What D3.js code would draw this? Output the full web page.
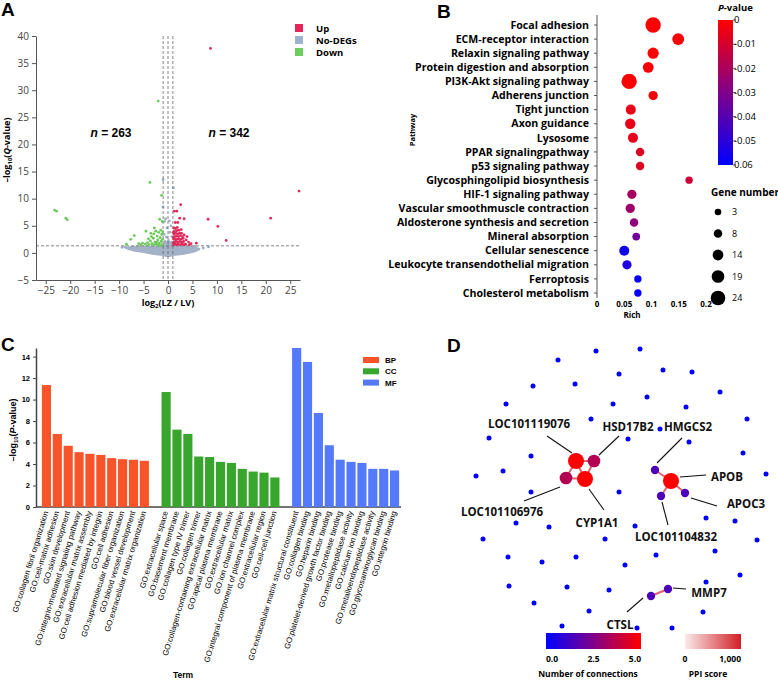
<!DOCTYPE html>
<html>
<head>
<meta charset="utf-8">
<script src="https://cdn.jsdelivr.net/npm/d3@7"></script>
<style>
body { margin: 0; background: #fff; }
svg { display: block; font-family: "Open Sans", sans-serif; }
</style>
</head>
<body>
<svg id="fig" width="778" height="681"></svg>
<script>
// ---------------- panel A : volcano ----------------
const upPts = [
  [8.7,37.7],[26.8,11.4],[8.2,6.2],[21.0,6.4],[10.2,4.9],[11.9,2.3],
  [1.3,7.7],[1.8,7.7],[2.6,8.9],[2.4,6.4],[3.3,6.3],[1.5,5.6],[2.0,5.6],
  [3.7,2.4],[4.7,1.7],[2.7,4.3],[4.2,2.0],[5.8,1.8],[3.9,3.0],[4.4,1.5],
  [1.2,1.5],[1.5,1.6],[1.8,1.5],[2.1,1.6],[2.5,1.5],[2.9,1.6],[3.3,1.5],[3.6,1.6],
  [1.3,2.0],[1.6,2.1],[2.0,2.0],[2.4,2.1],[2.8,2.0],[3.2,2.1],[1.1,1.8],
  [1.2,2.5],[1.5,2.6],[1.9,2.5],[2.3,2.6],[2.7,2.5],[3.1,2.7],[1.1,2.8],
  [1.3,3.0],[1.7,3.1],[2.1,3.0],[2.5,3.2],[2.9,3.0],[3.3,3.3],
  [1.2,3.5],[1.6,3.6],[2.0,3.5],[2.4,3.7],[1.1,3.8],[2.8,3.6],
  [1.3,4.0],[1.8,4.1],[2.2,4.2],[1.5,4.5],[1.2,4.6],[1.9,4.7]
];
const downPts = [
  [-2.0,28.0],[-23.2,7.9],[-22.8,7.7],[-20.9,6.4],[-20.6,6.1],[-3.7,13.0],[-1.3,10.6],
  [-6.9,3.2],[-7.6,2.5],[-4.5,4.0],[-2.8,4.6],[-1.7,6.2],[-8.5,1.6],[-6.0,1.7],
  [-1.2,1.5],[-1.4,2.1],[-1.6,2.8],[-1.3,3.4],[-1.8,1.8],[-2.1,2.4],[-2.4,1.6],
  [-2.2,3.1],[-2.7,2.0],[-3.0,2.7],[-3.3,1.7],[-3.6,2.2],[-3.9,1.5],[-4.2,1.9],
  [-4.6,1.6],[-2.9,3.5],[-1.9,3.8],[-1.5,4.2],[-2.5,4.0],[-3.4,3.0],[-4.0,2.6],
  [-5.2,1.8],[-5.6,1.5],[-1.1,2.5],[-1.7,1.4],[-2.0,1.4],[-1.2,5.8],[-3.5,3.6],
  [-1.1,3.9],[-2.3,2.0],[-2.9,1.5]
];
const nsPts = [
  [-1.0,13.5],[1.1,12.0],[-1.0,8.5],[-0.5,6.3],[0.3,5.9],[-0.7,5.8],[0.6,5.0],
  [-0.2,4.6],[0.4,3.8],[-0.8,3.4],[0.8,3.0],[-0.3,2.9],[0.1,2.3],[-0.6,2.1],
  [0.7,2.0],[-9.4,1.0],[8.3,1.1],[7.2,0.9],[5.5,1.2],[-8.8,1.1]
];
// dense grey mass: x, lower edge, upper edge
const nsCloudX = [-9, -8, -6, -4, -2, -1, 0, 1, 2, 4, 5.5, 6.6];
const nsCloudLo = [0.9, 0.5, 0.1, -0.2, -0.5, -0.6, -0.75, -0.6, -0.5, -0.2, 0.1, 0.6];
const nsCloudHi = [1.1, 1.2, 1.3, 1.3, 1.3, 1.7, 2.3, 1.7, 1.3, 1.3, 1.2, 0.9];
const volcanoXTicks = [-25, -20, -15, -10, -5, 0, 5, 10, 15, 20, 25];
const volcanoYTicks = [-5, 0, 5, 10, 15, 20, 25, 30, 35, 40];

// ---------------- panel B : KEGG bubbles ----------------
const pathways = ["Focal adhesion","ECM-receptor interaction","Relaxin signaling pathway",
  "Protein digestion and absorption","PI3K-Akt signaling pathway","Adherens junction",
  "Tight junction","Axon guidance","Lysosome","PPAR signalingpathway","p53 signaling pathway",
  "Glycosphingolipid biosynthesis","HIF-1 signaling pathway","Vascular smoothmuscle contraction",
  "Aldosterone synthesis and secretion","Mineral absorption","Cellular senescence",
  "Leukocyte transendothelial migration","Ferroptosis","Cholesterol metabolism"];
const richVals = [0.103,0.149,0.103,0.094,0.059,0.103,0.062,0.061,0.066,0.079,0.079,
  0.169,0.064,0.061,0.068,0.072,0.050,0.055,0.075,0.075];
const pVals = [-0.0005,-0.001,-0.001,-0.0015,-0.0005,-0.002,-0.005,-0.005,-0.006,-0.008,-0.008,
  -0.012,-0.021,-0.023,-0.026,-0.034,-0.056,-0.053,-0.058,-0.058];
const geneNums = [26,17,15,14,26,10,12,13,12,8,8,5,10,10,8,6,12,10,5,5];
const geneLegend = [3, 8, 14, 19, 24];
const pTicks = [0, -0.01, -0.02, -0.03, -0.04, -0.05, -0.06];
const richTicks = [0, 0.05, 0.1, 0.15, 0.2];

// ---------------- panel C : GO bars ----------------
const bpTerms = ["GO:collagen fibril organization","GO:cell-matrix adhesion","GO:skin development",
  "GO:integrin-mediated signaling pathway","GO:extracellular matrix assembly",
  "GO:cell adhesion mediated by integrin","GO:cell adhesion","GO:supramolecular fiber organization",
  "GO:blood vessel development","GO:extracellular matrix organization"];
const bpVals = [11.35,6.8,5.7,5.1,4.95,4.85,4.55,4.45,4.4,4.3];
const ccTerms = ["GO:extracellular space","GO:basement membrane","GO:collagen type IV trimer",
  "GO:collagen trimer","GO:collagen-containing extracellular matrix","GO:apical plasma membrane",
  "GO:extracellular matrix","GO:ion channel complex","GO:integral component of plasma membrane",
  "GO:extracellular region","GO:cell-cell junction"];
const ccVals = [10.7,7.2,6.8,4.7,4.65,4.2,4.1,3.55,3.3,3.2,2.75];
const mfTerms = ["GO:extracellular matrix structural constituent","GO:collagen binding",
  "GO:heparin binding","GO:platelet-derived growth factor binding","GO:protease binding",
  "GO:metallopeptidase activity","GO:calcium ion binding","GO:metalloendopeptidase activity",
  "GO:glycosaminoglycan binding","GO:integrin binding"];
const mfVals = [14.8,13.5,8.75,5.75,4.4,4.2,4.1,3.55,3.55,3.4];
const goYTicks = [0, 2, 4, 6, 8, 10, 12, 14];

// ---------------- panel D : PPI network (layout units) ----------------
const loneNodes = [
  [108,20],[146,11],[190,9],[83,46],[125,44],[169,34],[213,30],[242,32],[270,52],
  [56,64],[163,64],[197,57],[236,67],[141,79],[297,79],[210,89],[39,98],[178,99],
  [239,102],[81,116],[293,113],[26,136],[53,131],[316,134],[81,152],[169,152],
  [256,178],[285,181],[99,187],[185,186],[66,183],[33,199],[155,199],[307,200],
  [265,211],[206,215],[58,217],[92,222],[126,217],[175,225],[290,235],[256,242],
  [59,246],[117,247],[159,250],[84,263],[139,271],[253,272],[112,286],[222,288],[187,288]
];
const genes = ["LOC101119076","HSD17B2","LOC101106976","CYP1A1","HMGCS2","APOB",
  "LOC101104832","APOC3","MMP7","CTSL"];
const genePos = [[126,121],[144,121],[116,138],[135,139],[205,130],[221,141],
  [211,156],[235,153],[218,249],[201,256]];
const geneConn = [5, 3.5, 3.5, 5, 1.5, 5, 1.5, 1.5, 1.5, 1.5];
const labelPos = [[79,84],[178,87],[52,172],[147,183],[238,87],[277,137],
  [226,197],[296,164],[259,253],[170,285]];
const leaderFrom = [[97,96],[169,96],[74,161],[139,149],[232,98],[230,137],
  [212,162],[241,158],[223,248],[193,258]];
const leaderTo = [[122,113],[149,115],[110,147],[154,170],[207,123],[256,135],
  [218,185],[267,166],[236,249],[177,272]];
const ppiEdges = [[0,1],[0,2],[1,3],[2,3],[0,3],[5,4],[5,6],[5,7],[8,9]];

const svg = d3.select("#fig");
const heading = (x, y, t) => svg.append("text").attr("x", x).attr("y", y)
  .attr("font-family", "Liberation Sans, Arial, sans-serif").attr("font-weight", "bold")
  .attr("font-size", 19).text(t);

// ================= A =================
heading(1, 16, "A");
const xA = d3.scaleLinear([-27, 27], [36, 300]);
const yA = d3.scaleLinear([-5, 40], [280, 36]);
const gA = svg.append("g");

const axA = gA.append("g").attr("transform", "translate(0,280)")
  .call(d3.axisBottom(xA).tickValues(volcanoXTicks).tickSize(4).tickSizeOuter(0));
const ayA = gA.append("g").attr("transform", "translate(36,0)")
  .call(d3.axisLeft(yA).tickValues(volcanoYTicks).tickSize(4).tickSizeOuter(0));
[axA, ayA].forEach(a => {
  a.selectAll("path,line").attr("stroke", "#555");
  a.selectAll("text").attr("font-size", 10).attr("fill", "#444").attr("font-family", "Open Sans");
});

const cloud = d3.range(nsCloudX.length).map(i => [nsCloudX[i], nsCloudLo[i], nsCloudHi[i]]);
gA.append("path").datum(cloud)
  .attr("d", d3.area().curve(d3.curveCatmullRom).x(d => xA(d[0])).y0(d => yA(d[1])).y1(d => yA(d[2])))
  .attr("fill", "#a3b2c6");
gA.selectAll("circle.ns").data(nsPts).join("circle").attr("class", "ns")
  .attr("cx", d => xA(d[0])).attr("cy", d => yA(d[1])).attr("r", 1.4).attr("fill", "#9fb0c6");

[-1, 0, 1].forEach(v => {
  gA.append("line").attr("x1", xA(v)).attr("x2", xA(v)).attr("y1", yA(40)).attr("y2", yA(-5))
    .attr("stroke", "#666").attr("stroke-dasharray", "3,2").attr("stroke-width", 0.8);
});
gA.append("line").attr("x1", xA(-27)).attr("x2", xA(27)).attr("y1", yA(1.3)).attr("y2", yA(1.3))
  .attr("stroke", "#666").attr("stroke-dasharray", "3,2").attr("stroke-width", 0.8);

gA.selectAll("circle.down").data(downPts).join("circle").attr("class", "down")
  .attr("cx", d => xA(d[0])).attr("cy", d => yA(d[1])).attr("r", 1.4).attr("fill", "#6cc85a");
gA.selectAll("circle.up").data(upPts).join("circle").attr("class", "up")
  .attr("cx", d => xA(d[0])).attr("cy", d => yA(d[1])).attr("r", 1.4).attr("fill", "#de2a5a");

const nLab = (x, t) => {
  const tx = gA.append("text").attr("x", x).attr("y", 137).attr("text-anchor", "middle")
    .attr("font-family", "Liberation Sans, Arial").attr("font-weight", "bold").attr("font-size", 12);
  tx.append("tspan").attr("font-style", "italic").text("n");
  tx.append("tspan").text(" = " + t);
};
nLab(111, "263");
nLab(229, "342");

const legA = [["Up", "#e8245a"], ["No-DEGs", "#9fb3cf"], ["Down", "#6ccc5c"]];
legA.forEach(([t, c], i) => {
  gA.append("rect").attr("x", 295).attr("y", 24 + i * 12).attr("width", 8).attr("height", 8).attr("fill", c);
  gA.append("text").attr("x", 316).attr("y", 31.5 + i * 12).attr("font-size", 9.5).attr("font-weight", "bold").text(t);
});

const xlA = gA.append("text").attr("x", 168).attr("y", 306).attr("text-anchor", "middle")
  .attr("font-size", 9).attr("font-weight", "bold");
xlA.append("tspan").text("log");
xlA.append("tspan").attr("font-size", 6).attr("dy", 2).text("2");
xlA.append("tspan").attr("dy", -2).text("(LZ / LV)");
const ylA = gA.append("text").attr("transform", "translate(10,150) rotate(-90)").attr("text-anchor", "middle")
  .attr("font-size", 9).attr("font-weight", "bold");
ylA.append("tspan").text("\u2013log");
ylA.append("tspan").attr("font-size", 6).attr("dy", 2).text("10");
ylA.append("tspan").attr("dy", -2).text("(");
ylA.append("tspan").attr("font-style", "italic").text("Q");
ylA.append("tspan").text("-value)");

// ================= B =================
heading(437, 18, "B");
const gB = svg.append("g");
const yB = d3.scalePoint(pathways, [25, 293]);
const xB = d3.scaleLinear([0, 0.2], [597, 706]);
const rB = d3.scaleLinear([3, 24], [3.3, 7.3]);
const pColor = d3.scaleLinear([-0.06, -0.03, 0], ["#0000ff", "#80008a", "#ff0000"]);

gB.append("line").attr("x1", 597).attr("x2", 597).attr("y1", 15).attr("y2", 298).attr("stroke", "#555");
gB.selectAll("line.tk").data(pathways).join("line").attr("class", "tk")
  .attr("x1", 594).attr("x2", 597).attr("y1", d => yB(d)).attr("y2", d => yB(d)).attr("stroke", "#555");
gB.selectAll("text.pw").data(pathways).join("text").attr("class", "pw")
  .attr("x", 589).attr("y", d => yB(d)).attr("dy", "0.35em").attr("text-anchor", "end")
  .attr("font-size", 10.6).attr("font-weight", "bold").attr("font-family", "Open Sans, sans-serif").text(d => d);
gB.selectAll("text.rt").data(richTicks).join("text").attr("class", "rt")
  .attr("x", d => xB(d)).attr("y", 307).attr("text-anchor", "middle").attr("font-size", 8)
  .attr("font-weight", "bold").text(d => d);
gB.append("text").attr("x", 632).attr("y", 318).attr("text-anchor", "middle").attr("font-size", 8)
  .attr("font-weight", "bold").text("Rich");
gB.append("text").attr("transform", "translate(415,130) rotate(-90)").attr("text-anchor", "middle")
  .attr("font-size", 7.5).attr("font-weight", "bold").text("Pathway");

gB.selectAll("circle.bub").data(pathways).join("circle").attr("class", "bub")
  .attr("cx", (d, i) => xB(richVals[i])).attr("cy", d => yB(d))
  .attr("r", (d, i) => rB(geneNums[i])).attr("fill", (d, i) => pColor(pVals[i]));

// colour bar
const defs = svg.append("defs");
const gradP = defs.append("linearGradient").attr("id", "gradP").attr("x1", 0).attr("x2", 0).attr("y1", 0).attr("y2", 1);
d3.range(0, 1.01, 0.1).forEach(t => gradP.append("stop").attr("offset", t).attr("stop-color", pColor(-0.06 * t)));
const yP = d3.scaleLinear([0, -0.06], [20, 165]);
gB.append("rect").attr("x", 718).attr("y", 20).attr("width", 15).attr("height", 145).attr("fill", "url(#gradP)");
gB.selectAll("line.pt").data(pTicks).join("line").attr("class", "pt")
  .attr("x1", 733).attr("x2", 736).attr("y1", d => yP(d)).attr("y2", d => yP(d)).attr("stroke", "#555");
gB.selectAll("text.pt").data(pTicks).join("text").attr("class", "pt")
  .attr("x", 734).attr("y", d => yP(d)).attr("dy", "0.35em").attr("font-size", 9.5)
  .text(d => d === 0 ? "0" : d === -0.06 ? "0.06" : d.toFixed(2));
const pTitle = gB.append("text").attr("x", 718).attr("y", 11).attr("font-size", 9.5).attr("font-weight", "bold");
pTitle.append("tspan").attr("font-style", "italic").text("P");
pTitle.append("tspan").text("-value");

gB.append("text").attr("x", 711).attr("y", 196).attr("font-size", 10).attr("font-weight", "bold").text("Gene number");
const legY = d3.scalePoint(geneLegend, [212, 298]);
gB.selectAll("circle.gl").data(geneLegend).join("circle").attr("class", "gl")
  .attr("cx", 718).attr("cy", d => legY(d)).attr("r", d => rB(d)).attr("fill", "#000");
gB.selectAll("text.gl").data(geneLegend).join("text").attr("class", "gl")
  .attr("x", 732).attr("y", d => legY(d)).attr("dy", "0.35em").attr("font-size", 9).text(d => d);

// ================= C =================
heading(1, 351, "C");
const gC = svg.append("g");
const goGroups = [
  { terms: bpTerms, vals: bpVals, color: "#f7542a", name: "BP" },
  { terms: ccTerms, vals: ccVals, color: "#38a52c", name: "CC" },
  { terms: mfTerms, vals: mfVals, color: "#5479fb", name: "MF" }
];
const slots = [];
goGroups.forEach((g, gi) => {
  if (gi > 0) slots.push("gap" + gi);
  g.terms.forEach(t => slots.push(t));
});
const xC = d3.scaleBand(slots, [41, 400]).paddingInner(0.16).paddingOuter(0.08);
const yC = d3.scaleLinear([0, 14.8], [507, 348]);

const ayC = gC.append("g").attr("transform", "translate(36,0)")
  .call(d3.axisLeft(yC).tickValues(goYTicks).tickSize(3).tickSizeOuter(0));
ayC.select("path").attr("stroke", "#444").attr("stroke-width", 1.5);
ayC.selectAll("line").attr("stroke", "#444");
ayC.selectAll("text").attr("font-size", 7.5).attr("font-weight", "bold").attr("font-family", "Liberation Sans, Arial");
gC.append("line").attr("x1", 36).attr("x2", 401).attr("y1", 507).attr("y2", 507).attr("stroke", "#444").attr("stroke-width", 1.5);

goGroups.forEach(g => {
  gC.selectAll(null).data(g.terms).join("rect")
    .attr("x", d => xC(d)).attr("width", xC.bandwidth())
    .attr("y", (d, i) => yC(g.vals[i])).attr("height", (d, i) => 507 - yC(g.vals[i]))
    .attr("fill", g.color);
  gC.selectAll(null).data(g.terms).join("text")
    .attr("transform", d => `translate(${xC(d) + xC.bandwidth() / 2 + 2},${512}) rotate(-73)`)
    .attr("text-anchor", "end").attr("font-size", 7.9).attr("font-family", "Liberation Sans, Arial")
    .text(d => d);
});

goGroups.forEach((g, i) => {
  gC.append("rect").attr("x", 363).attr("y", 357 + i * 11.3).attr("width", 16).attr("height", 6).attr("fill", g.color);
  gC.append("text").attr("x", 385).attr("y", 363 + i * 11.3).attr("font-size", 8).attr("font-weight", "bold")
    .attr("font-family", "Liberation Sans, Arial").text(g.name);
});
gC.append("text").attr("x", 183).attr("y", 678).attr("text-anchor", "middle").attr("font-size", 8.5)
  .attr("font-weight", "bold").attr("font-family", "Liberation Sans, Arial").text("Term");
const ylC = gC.append("text").attr("transform", "translate(16,430) rotate(-90)").attr("text-anchor", "middle")
  .attr("font-size", 9).attr("font-weight", "bold").attr("font-family", "Liberation Sans, Arial");
ylC.append("tspan").text("\u2013log");
ylC.append("tspan").attr("font-size", 6).attr("dy", 2).text("10");
ylC.append("tspan").attr("dy", -2).text("(");
ylC.append("tspan").attr("font-style", "italic").text("P");
ylC.append("tspan").text("-value)");

// ================= D =================
heading(447, 352, "D");
const gD = svg.append("g");
const xD = d3.scaleLinear([0, 328], [450, 778]);
const yD = d3.scaleLinear([0, 341], [340, 681]);
const connColor = d3.scaleLinear([0, 2.5, 5], ["#0000ff", "#80008a", "#ff0000"]);
const rD = d3.scaleLinear([0, 5], [2.5, 8]);

gD.selectAll("circle.lone").data(loneNodes).join("circle").attr("class", "lone")
  .attr("cx", d => xD(d[0])).attr("cy", d => yD(d[1])).attr("r", rD(0)).attr("fill", connColor(0));
gD.selectAll("line.edge").data(ppiEdges).join("line").attr("class", "edge")
  .attr("x1", d => xD(genePos[d[0]][0])).attr("y1", d => yD(genePos[d[0]][1]))
  .attr("x2", d => xD(genePos[d[1]][0])).attr("y2", d => yD(genePos[d[1]][1]))
  .attr("stroke", "#e2606e").attr("stroke-width", 2);
gD.selectAll("line.lead").data(genes).join("line").attr("class", "lead")
  .attr("x1", (d, i) => xD(leaderFrom[i][0])).attr("y1", (d, i) => yD(leaderFrom[i][1]))
  .attr("x2", (d, i) => xD(leaderTo[i][0])).attr("y2", (d, i) => yD(leaderTo[i][1]))
  .attr("stroke", "#111").attr("stroke-width", 1.1);
gD.selectAll("circle.gene").data(genes).join("circle").attr("class", "gene")
  .attr("cx", (d, i) => xD(genePos[i][0])).attr("cy", (d, i) => yD(genePos[i][1]))
  .attr("r", (d, i) => rD(geneConn[i])).attr("fill", (d, i) => connColor(geneConn[i]));
gD.selectAll("text.gene").data(genes).join("text").attr("class", "gene")
  .attr("x", (d, i) => xD(labelPos[i][0])).attr("y", (d, i) => yD(labelPos[i][1])).attr("dy", "0.35em")
  .attr("text-anchor", "middle").attr("font-size", 11.5).attr("font-weight", "bold").attr("fill", "#111").text(d => d);

const gradC = defs.append("linearGradient").attr("id", "gradC");
d3.range(0, 1.01, 0.1).forEach(t => gradC.append("stop").attr("offset", t).attr("stop-color", connColor(5 * t)));
const gradS = defs.append("linearGradient").attr("id", "gradS");
gradS.append("stop").attr("offset", 0).attr("stop-color", "#fbeaea");
gradS.append("stop").attr("offset", 1).attr("stop-color", "#d11f26");
const xConn = d3.scaleLinear([0, 5], [546, 641]);
gD.append("rect").attr("x", 546).attr("y", 633).attr("width", 95).attr("height", 16).attr("fill", "url(#gradC)");
gD.selectAll("text.cl").data([0, 2.5, 5]).join("text").attr("class", "cl")
  .attr("x", d => xConn(d)).attr("y", 662).attr("text-anchor", d => d === 0 ? "start" : d === 5 ? "end" : "middle")
  .attr("font-size", 8.5).attr("font-weight", "bold").text(d => d.toFixed(1));
gD.append("text").attr("x", 588).attr("y", 677).attr("text-anchor", "middle").attr("font-size", 8.5)
  .attr("font-weight", "bold").text("Number of connections");
const xPpi = d3.scaleLinear([0, 1000], [685, 741]);
gD.append("rect").attr("x", 685).attr("y", 634).attr("width", 56).attr("height", 15).attr("fill", "url(#gradS)");
gD.selectAll("text.sl").data([0, 1000]).join("text").attr("class", "sl")
  .attr("x", d => xPpi(d)).attr("y", 662).attr("text-anchor", d => d === 0 ? "middle" : "end")
  .attr("font-size", 8.5).attr("font-weight", "bold").text(d => d3.format(",")(d));
gD.append("text").attr("x", 708).attr("y", 677).attr("text-anchor", "middle").attr("font-size", 8.5)
  .attr("font-weight", "bold").text("PPI score");
</script>
</body>
</html>
